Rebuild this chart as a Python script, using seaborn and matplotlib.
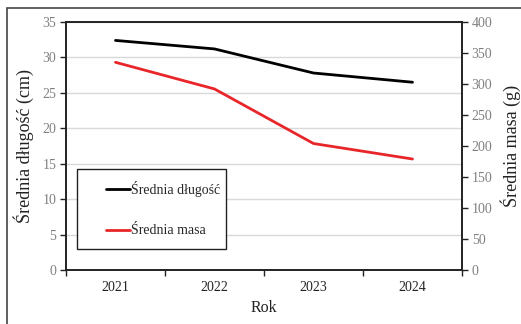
import matplotlib
matplotlib.use("Agg")
import matplotlib.pyplot as plt
import seaborn as sns
import pandas as pd
from matplotlib.patches import Rectangle
from matplotlib.ticker import FixedLocator

years = ["2021", "2022", "2023", "2024"]
dlugosc = [32.4, 31.2, 27.8, 26.5]
masa = [335, 292, 204, 179]

sns.set_theme(style="white")
plt.rcParams['font.family'] = ['Liberation Serif', 'DejaVu Serif']

df = pd.DataFrame({"pos": range(len(years)), "rok": years, "dl": dlugosc, "masa": masa})

fig = plt.figure(figsize=(5.21, 3.24), dpi=100)
ax = fig.add_axes([66/521, 1-270/324, 396/521, 248/324])
ax2 = ax.twinx()

sns.lineplot(data=df, x="pos", y="dl", ax=ax, color="black", linewidth=2, label="Średnia długość", legend=False)
sns.lineplot(data=df, x="pos", y="masa", ax=ax2, color="#e8262a", linewidth=2, label="Średnia masa", legend=False)

ax.set_xlim(-0.5, len(years) - 0.5)
ax.set_ylim(0, 35)
ax2.set_ylim(0, 400)
ax.set_yticks(range(0, 36, 5))
ax2.set_yticks(range(0, 401, 50))
ax.set_xticks(range(len(years)))
ax.set_xticklabels(years)
ax.xaxis.set_minor_locator(FixedLocator([i - 0.5 for i in range(len(years) + 1)]))

ax.grid(axis="y", color="#d9d9d9", linewidth=1)
ax.set_axisbelow(True)

for a in (ax, ax2):
    for s in a.spines.values():
        s.set_color("#222222")
        s.set_linewidth(1.2)

gray = "#808080"
ax.tick_params(axis="y", which="major", direction="out", length=4, width=1, color="#222222",
               labelsize=10, labelcolor=gray, left=True, pad=3)
ax2.tick_params(axis="y", which="major", direction="out", length=4, width=1, color="#222222",
                labelsize=10, labelcolor=gray, right=True, pad=3)
ax.tick_params(axis="x", which="major", length=0, labelsize=10, labelcolor="#222222", pad=8)
ax.tick_params(axis="x", which="minor", direction="out", length=4, width=1, color="#222222", bottom=True)

ax.set_xlabel("Rok", fontsize=11.5, color="#222222", labelpad=4)
ax.set_ylabel("Średnia długość (cm)", fontsize=13, color="#222222", labelpad=6)
ax2.set_ylabel("Średnia masa (g)", fontsize=13, color="#222222", labelpad=6)

# legend box
x0 = (77 - 66) / 396
x1 = (226 - 66) / 396
y0 = (270 - 249) / 248
y1 = (270 - 169) / 248
ax2.add_patch(Rectangle((x0, y0), x1 - x0, y1 - y0, transform=ax2.transAxes,
                        facecolor="white", edgecolor="#222222", linewidth=1, zorder=5))
h1, l1 = ax.get_legend_handles_labels()
h2, l2 = ax2.get_legend_handles_labels()
leg = ax2.legend(h1 + h2, l1 + l2, loc="center left",
                 bbox_to_anchor=((103 - 66) / 396 - 0.01, (y0 + y1) / 2),
                 frameon=False, fontsize=10, handlelength=1.7, handletextpad=0.1,
                 labelspacing=2.0, borderpad=0)
leg.set_zorder(6)

# outer frame
fig.patches.append(Rectangle((7/521, -0.1), 1.2, (1 - 8/324) + 0.1, transform=fig.transFigure,
                             facecolor="none", edgecolor="#444444", linewidth=1.2, figure=fig))

fig.savefig("out.png", dpi=100)
